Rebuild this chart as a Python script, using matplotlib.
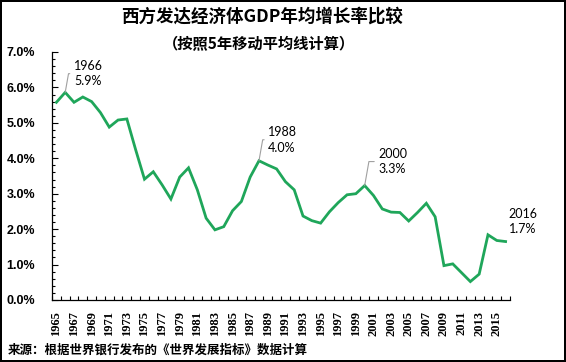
import matplotlib
matplotlib.use("Agg")
from matplotlib import pyplot as plt
from matplotlib.ticker import MultipleLocator, FixedLocator, FuncFormatter

plt.rcParams['font.family'] = ['Noto Sans CJK SC', 'DejaVu Sans']

# 数据（按5年移动平均，%）
years = list(range(1965, 2017))
growth = [5.58, 5.86, 5.58, 5.73, 5.60, 5.29, 4.88, 5.08, 5.11, 4.24,
          3.41, 3.62, 3.25, 2.85, 3.47, 3.73, 3.11, 2.31, 1.98, 2.07,
          2.52, 2.78, 3.47, 3.93, 3.81, 3.70, 3.34, 3.11, 2.37, 2.24,
          2.17, 2.49, 2.75, 2.97, 3.00, 3.23, 2.95, 2.57, 2.48, 2.47,
          2.23, 2.47, 2.73, 2.35, 0.97, 1.02, 0.77, 0.52, 0.73, 1.84,
          1.68, 1.65]
# 标注
notes = [(1966, "1966\n5.9%"), (1988, "1988\n4.0%"),
         (2000, "2000\n3.3%"), (2016, "2016\n1.7%")]
note_offsets = [(8.7, 18.7), (9.3, 21), (13.7, 24), (3, 20)]  # 像素

fig = plt.figure(figsize=(5.66, 3.62), dpi=100, edgecolor='black', linewidth=1.5)
ax = fig.add_axes([52/566, 62/362, 458/566, 248/362])

x = list(range(len(years)))
ax.plot(x, growth, color='#1FA65A', lw=2.0, solid_joinstyle='miter')

ax.set_xlim(-0.5, len(years) - 0.5)
ax.set_ylim(0, 7)

# y轴
ax.yaxis.set_major_locator(MultipleLocator(1))
ax.yaxis.set_minor_locator(MultipleLocator(0.2))
ax.yaxis.set_major_formatter(FuncFormatter(lambda v, p: f"{v:.1f}%"))
ax.tick_params(axis='y', which='major', direction='in', length=4, width=0.8, pad=12)
ax.tick_params(axis='y', which='minor', direction='in', length=2.5, width=0.8)
for t in ax.get_yticklabels():
    t.set_family(['Liberation Sans', 'DejaVu Sans'])
    t.set_fontweight('bold')
    t.set_fontsize(9)

# x轴
ax.xaxis.set_major_locator(FixedLocator(x[::2]))
ax.set_xticklabels([str(y) for y in years[::2]], rotation=90,
                   family=['Liberation Serif', 'DejaVu Serif'], fontweight='bold', fontsize=9)
ax.xaxis.set_minor_locator(FixedLocator([i - 0.5 for i in range(len(years) + 1)]))
ax.tick_params(axis='x', which='major', length=0, pad=8)
ax.tick_params(axis='x', which='minor', direction='in', length=3, width=0.8)

for s in ['top', 'right']:
    ax.spines[s].set_visible(False)
for s in ['left', 'bottom']:
    ax.spines[s].set_linewidth(0.9)

# 数据标注
for (yr, txt), (dx, dy) in zip(notes, note_offsets):
    i = years.index(yr)
    if yr == 2016:
        ax.annotate(txt, xy=(i, growth[i]), xytext=(dx*0.72, dy*0.72), textcoords='offset points',
                    ha='left', va='center', fontsize=9, linespacing=1.35,
                    family=['Lato', 'DejaVu Sans'], annotation_clip=False)
    else:
        ax.annotate(txt, xy=(i, growth[i]), xytext=(dx*0.72, dy*0.72), textcoords='offset points',
                    ha='left', va='center', fontsize=9, linespacing=1.35,
                    family=['Lato', 'DejaVu Sans'],
                    arrowprops=dict(arrowstyle='-', color='#A0A0A0', lw=0.8,
                                    shrinkA=1, shrinkB=0, relpos=(0, 0.5),
                                    connectionstyle='angle,angleA=180,angleB=80,rad=0'))

fig.text(262/566, 1 - 17/362, "西方发达经济体GDP年均增长率比较", ha='center', va='center',
         fontsize=12.6, fontweight='bold')
fig.text(259/566, 1 - 44/362, "（按照5年移动平均线计算）", ha='center', va='center',
         fontsize=11, fontweight='bold')
fig.text(8/566, 1 - 350/362, "来源：根据世界银行发布的《世界发展指标》数据计算", ha='left', va='center',
         fontsize=9, fontweight='bold')

fig.savefig("out.png", dpi=100)
